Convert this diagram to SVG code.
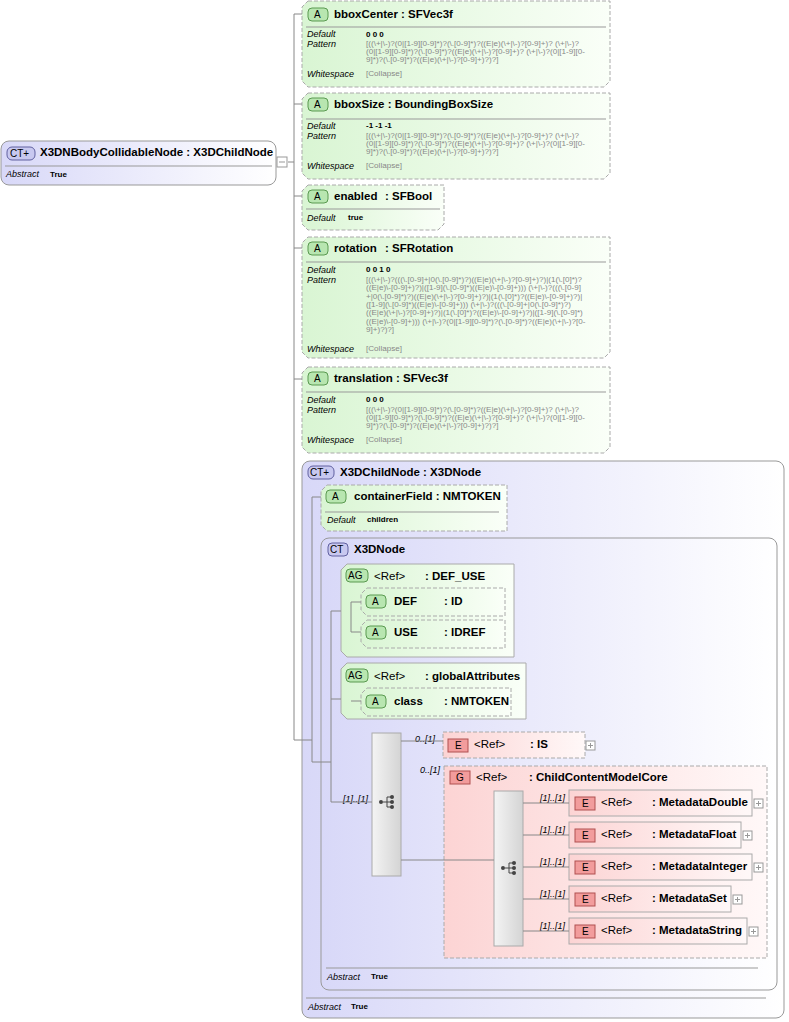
<svg xmlns="http://www.w3.org/2000/svg" width="789" height="1022" viewBox="0 0 789 1022">
<defs>
<linearGradient id="gG" x1="0" y1="0" x2="1" y2="0"><stop offset="0" stop-color="#d9f5d3"/><stop offset="1" stop-color="#fafff8"/></linearGradient>
<linearGradient id="gP" x1="0" y1="0" x2="1" y2="0"><stop offset="0" stop-color="#d8d8f8"/><stop offset="1" stop-color="#ffffff"/></linearGradient>
<linearGradient id="gR" x1="0" y1="0" x2="1" y2="0"><stop offset="0" stop-color="#fcd4d4"/><stop offset="1" stop-color="#fff8f8"/></linearGradient>
<linearGradient id="gS" x1="0" y1="0" x2="1" y2="0"><stop offset="0" stop-color="#f4f4f4"/><stop offset="1" stop-color="#d4d4d4"/></linearGradient>
<g id="seq"><circle cx="-7" cy="0" r="2" fill="#444"/><path d="M-5 0H-1M-1 -5V5M-1 -5H3M-1 0H3M-1 5H3" stroke="#444" fill="none"/><circle cx="4" cy="-5" r="2" fill="#444"/><circle cx="4" cy="0" r="2" fill="#444"/><circle cx="4" cy="5" r="2" fill="#444"/></g>
</defs>
<style>
text{font-family:"Liberation Sans",Arial,sans-serif;fill:#000}
.t{font-size:11.5px;font-weight:bold}
.n{font-size:11.5px}
.b{font-size:10px}
.k{font-size:9px;font-style:italic}
.v{font-size:8px;font-weight:bold}
.p{font-size:8.1px;fill:#888}
.m{font-size:9px;font-style:italic}
.att{fill:url(#gG);stroke:#aaa;stroke-dasharray:4,2}
.attS{fill:url(#gG);stroke:#aaa}
.ct{fill:url(#gP);stroke:#999}
.el{fill:url(#gR);stroke:#aaa}
.eld{fill:url(#gR);stroke:#aaa;stroke-dasharray:4,2}
.bA{fill:#b8e6b0;stroke:#5a9a50}
.bE{fill:#f29c9c;stroke:#b05050}
.bC{fill:#c8c8f0;stroke:#6060a0}
.ln{stroke:#888;fill:none}
.sep{stroke:#999}
.pl{fill:#fff;stroke:#999}
</style>

<g id="root">
<rect x="1" y="141" width="275" height="44" rx="8" class="ct"/>
<rect x="7" y="147" width="28" height="13" rx="5" class="bC"/><text x="10" y="157" class="b">CT+</text>
<text x="40" y="156" class="t">X3DNBodyCollidableNode : X3DChildNode</text>
<line x1="5" y1="166" x2="272" y2="166" class="sep"/>
<text x="6" y="177" class="k">Abstract</text><text x="50" y="177" class="v">True</text>
<rect x="277" y="157" width="10" height="10" class="pl"/><path d="M279 162H285" stroke="#999"/>
</g>

<g id="bboxCenter">
<path d="M308 1H610V81L604 87H308L302 81V7Z" class="att"/>
<rect x="308" y="8" width="20" height="13" rx="4" class="bA"/><text x="314" y="18" class="b">A</text>
<text x="334" y="18" class="t">bboxCenter : SFVec3f</text>
<line x1="306" y1="27" x2="606" y2="27" class="sep"/>
<text x="307" y="37" class="k">Default</text><text x="366" y="37" class="v">0 0 0</text>
<text x="307" y="47" class="k">Pattern</text>
<text x="366" y="46" class="p">[((\+|\-)?(0|[1-9][0-9]*)?(\.[0-9]*)?((E|e)(\+|\-)?[0-9]+)? (\+|\-)?</text>
<text x="366" y="54" class="p">(0|[1-9][0-9]*)?(\.[0-9]*)?((E|e)(\+|\-)?[0-9]+)? (\+|\-)?(0|[1-9][0-</text>
<text x="366" y="62" class="p">9]*)?(\.[0-9]*)?((E|e)(\+|\-)?[0-9]+)?)?]</text>
<text x="307" y="77" class="k">Whitespace</text><text x="366" y="76" class="p">[Collapse]</text>
</g>

<g id="bboxSize">
<path d="M308 93H610V173L604 179H308L302 173V99Z" class="att"/>
<rect x="308" y="98" width="20" height="13" rx="4" class="bA"/><text x="314" y="108" class="b">A</text>
<text x="334" y="108" class="t">bboxSize : BoundingBoxSize</text>
<line x1="306" y1="119" x2="606" y2="119" class="sep"/>
<text x="307" y="129" class="k">Default</text><text x="366" y="128" class="v">-1 -1 -1</text>
<text x="307" y="139" class="k">Pattern</text>
<text x="366" y="138" class="p">[((\+|\-)?(0|[1-9][0-9]*)?(\.[0-9]*)?((E|e)(\+|\-)?[0-9]+)? (\+|\-)?</text>
<text x="366" y="146" class="p">(0|[1-9][0-9]*)?(\.[0-9]*)?((E|e)(\+|\-)?[0-9]+)? (\+|\-)?(0|[1-9][0-</text>
<text x="366" y="154" class="p">9]*)?(\.[0-9]*)?((E|e)(\+|\-)?[0-9]+)?)?]</text>
<text x="307" y="169" class="k">Whitespace</text><text x="366" y="168" class="p">[Collapse]</text>
</g>

<g id="enabled">
<path d="M308 185H444V224L438 230H308L302 224V191Z" class="att"/>
<rect x="308" y="190" width="20" height="13" rx="4" class="bA"/><text x="314" y="200" class="b">A</text>
<text x="334" y="200" class="t">enabled</text><text x="385" y="200" class="t">: SFBool</text>
<line x1="306" y1="209" x2="440" y2="209" class="sep"/>
<text x="307" y="221" class="k">Default</text><text x="348" y="220" class="v">true</text>
</g>

<g id="rotation">
<path d="M308 237H610V352L604 358H308L302 352V243Z" class="att"/>
<rect x="308" y="242" width="20" height="13" rx="4" class="bA"/><text x="314" y="252" class="b">A</text>
<text x="334" y="252" class="t">rotation</text><text x="385" y="252" class="t">: SFRotation</text>
<line x1="306" y1="262" x2="606" y2="262" class="sep"/>
<text x="307" y="273" class="k">Default</text><text x="366" y="272" class="v">0 0 1 0</text>
<text x="307" y="283" class="k">Pattern</text>
<text x="366" y="282" class="p">[((\+|\-)?(((\.[0-9]+|0(\.[0-9]*)?)((E|e)(\+|\-)?[0-9]+)?)|(1(\.[0]*)?</text>
<text x="366" y="290" class="p">((E|e)\-[0-9]+)?)|([1-9](\.[0-9]*)((E|e)\-[0-9]+))) (\+|\-)?(((\.[0-9]</text>
<text x="366" y="299" class="p">+|0(\.[0-9]*)?)((E|e)(\+|\-)?[0-9]+)?)|(1(\.[0]*)?((E|e)\-[0-9]+)?)|</text>
<text x="366" y="307" class="p">([1-9](\.[0-9]*)((E|e)\-[0-9]+))) (\+|\-)?(((\.[0-9]+|0(\.[0-9]*)?)</text>
<text x="366" y="315" class="p">((E|e)(\+|\-)?[0-9]+)?)|(1(\.[0]*)?((E|e)\-[0-9]+)?)|([1-9](\.[0-9]*)</text>
<text x="366" y="324" class="p">((E|e)\-[0-9]+))) (\+|\-)?(0|[1-9][0-9]*)?(\.[0-9]*)?((E|e)(\+|\-)?[0-</text>
<text x="366" y="332" class="p">9]+)?)?]</text>
<text x="307" y="352" class="k">Whitespace</text><text x="366" y="351" class="p">[Collapse]</text>
</g>

<g id="translation">
<path d="M308 367H610V447L604 453H308L302 447V373Z" class="att"/>
<rect x="308" y="372" width="20" height="13" rx="4" class="bA"/><text x="314" y="382" class="b">A</text>
<text x="334" y="382" class="t">translation : SFVec3f</text>
<line x1="306" y1="392" x2="606" y2="392" class="sep"/>
<text x="307" y="403" class="k">Default</text><text x="366" y="402" class="v">0 0 0</text>
<text x="307" y="413" class="k">Pattern</text>
<text x="366" y="412" class="p">[((\+|\-)?(0|[1-9][0-9]*)?(\.[0-9]*)?((E|e)(\+|\-)?[0-9]+)? (\+|\-)?</text>
<text x="366" y="420" class="p">(0|[1-9][0-9]*)?(\.[0-9]*)?((E|e)(\+|\-)?[0-9]+)? (\+|\-)?(0|[1-9][0-</text>
<text x="366" y="428" class="p">9]*)?(\.[0-9]*)?((E|e)(\+|\-)?[0-9]+)?)?]</text>
<text x="307" y="443" class="k">Whitespace</text><text x="366" y="442" class="p">[Collapse]</text>
</g>

<g id="X3DChildNode">
<rect x="302" y="461" width="482" height="557" rx="8" class="ct"/>
<rect x="308" y="466" width="26" height="13" rx="5" class="bC"/><text x="310" y="476" class="b">CT+</text>
<text x="340" y="476" class="t">X3DChildNode : X3DNode</text>
<line x1="306" y1="998" x2="766" y2="998" class="sep"/>
<text x="308" y="1010" class="k">Abstract</text><text x="351" y="1009" class="v">True</text>
</g>

<g id="containerField">
<path d="M327 485H507V531H327L321 525V491Z" class="att"/>
<rect x="326" y="490" width="20" height="13" rx="4" class="bA"/><text x="332" y="500" class="b">A</text>
<text x="354" y="500" class="t">containerField : NMTOKEN</text>
<line x1="325" y1="512" x2="499" y2="512" class="sep"/>
<text x="327" y="523" class="k">Default</text><text x="367" y="522" class="v">children</text>
</g>

<g id="X3DNode">
<rect x="321" y="538" width="456" height="452" rx="8" class="ct"/>
<rect x="328" y="543" width="20" height="13" rx="4" class="bC"/><text x="330" y="553" class="b">CT</text>
<text x="354" y="553" class="t">X3DNode</text>
<line x1="326" y1="968" x2="758" y2="968" class="sep"/>
<text x="327" y="980" class="k">Abstract</text><text x="371" y="979" class="v">True</text>
</g>

<g id="DEF_USE">
<path d="M347 564H514V657H347L341 651V570Z" class="attS"/>
<rect x="346" y="569" width="22" height="13" rx="4" class="bA"/><text x="348" y="579" class="b">AG</text>
<text x="374" y="580" class="n">&lt;Ref&gt;</text><text x="425" y="580" class="t">: DEF_USE</text>
<path d="M367 588H505V616H367L361 610V594Z" class="att"/>
<rect x="366" y="595" width="20" height="13" rx="4" class="bA"/><text x="372" y="605" class="b">A</text>
<text x="394" y="605" class="t">DEF</text><text x="444" y="605" class="t">: ID</text>
<path d="M367 620H505V648H367L361 642V626Z" class="att"/>
<rect x="366" y="626" width="20" height="13" rx="4" class="bA"/><text x="372" y="636" class="b">A</text>
<text x="394" y="636" class="t">USE</text><text x="444" y="636" class="t">: IDREF</text>
</g>

<g id="globalAttributes">
<path d="M347 663H526V719H347L341 713V669Z" class="attS"/>
<rect x="346" y="669" width="22" height="13" rx="4" class="bA"/><text x="348" y="679" class="b">AG</text>
<text x="374" y="680" class="n">&lt;Ref&gt;</text><text x="425" y="680" class="t">: globalAttributes</text>
<path d="M367 688H511V716H367L361 710V694Z" class="att"/>
<rect x="366" y="695" width="20" height="13" rx="4" class="bA"/><text x="372" y="705" class="b">A</text>
<text x="394" y="705" class="t">class</text><text x="444" y="705" class="t">: NMTOKEN</text>
</g>

<g id="sequence1">
<rect x="372" y="733" width="29" height="143" fill="url(#gS)" stroke="#aaa"/>
<use href="#seq" x="388" y="802"/>
<text x="343" y="802" class="m">[1]..[1]</text>
<text x="415" y="742" class="m">0..[1]</text>
<text x="465" y="865" class="m">[1]..[1]</text>
</g>

<g id="IS">
<rect x="443" y="732" width="142" height="26" class="eld"/>
<rect x="448" y="739" width="20" height="13" class="bE"/><text x="455" y="749" class="b">E</text>
<text x="474" y="748" class="n">&lt;Ref&gt;</text><text x="530" y="748" class="t">: IS</text>
<rect x="586" y="741" width="9" height="9" class="pl"/><path d="M588 745.5H593M590.5 743V748" stroke="#999"/>
</g>

<g id="ChildContentModelCore">
<rect x="444" y="766" width="323" height="192" class="eld"/>
<text x="420" y="773" class="m">0..[1]</text>
<rect x="450" y="771" width="20" height="13" class="bE"/><text x="456" y="781" class="b">G</text>
<text x="476" y="781" class="n">&lt;Ref&gt;</text><text x="529" y="781" class="t">: ChildContentModelCore</text>
<rect x="494" y="791" width="29" height="155" fill="url(#gS)" stroke="#aaa"/>
<use href="#seq" x="510" y="868"/>
</g>

<g id="MetadataDouble">
<text x="540" y="801" class="m">[1]..[1]</text>
<rect x="569" y="790" width="183" height="26" class="el"/>
<rect x="575" y="797" width="20" height="13" class="bE"/><text x="582" y="807" class="b">E</text>
<text x="601" y="806" class="n">&lt;Ref&gt;</text><text x="652" y="806" class="t">: MetadataDouble</text>
<rect x="754" y="799" width="9" height="9" class="pl"/><path d="M756 803.5H761M758.5 801V806" stroke="#999"/>
</g>
<g id="MetadataFloat">
<text x="540" y="833" class="m">[1]..[1]</text>
<rect x="569" y="822" width="172" height="26" class="el"/>
<rect x="575" y="829" width="20" height="13" class="bE"/><text x="582" y="839" class="b">E</text>
<text x="601" y="838" class="n">&lt;Ref&gt;</text><text x="652" y="838" class="t">: MetadataFloat</text>
<rect x="743" y="831" width="9" height="9" class="pl"/><path d="M745 835.5H750M747.5 833V838" stroke="#999"/>
</g>
<g id="MetadataInteger">
<text x="540" y="865" class="m">[1]..[1]</text>
<rect x="569" y="854" width="183" height="26" class="el"/>
<rect x="575" y="861" width="20" height="13" class="bE"/><text x="582" y="871" class="b">E</text>
<text x="601" y="870" class="n">&lt;Ref&gt;</text><text x="652" y="870" class="t">: MetadataInteger</text>
<rect x="754" y="863" width="9" height="9" class="pl"/><path d="M756 867.5H761M758.5 865V870" stroke="#999"/>
</g>
<g id="MetadataSet">
<text x="540" y="897" class="m">[1]..[1]</text>
<rect x="569" y="886" width="162" height="26" class="el"/>
<rect x="575" y="893" width="20" height="13" class="bE"/><text x="582" y="903" class="b">E</text>
<text x="601" y="902" class="n">&lt;Ref&gt;</text><text x="652" y="902" class="t">: MetadataSet</text>
<rect x="733" y="895" width="9" height="9" class="pl"/><path d="M735 899.5H740M737.5 897V902" stroke="#999"/>
</g>
<g id="MetadataString">
<text x="540" y="929" class="m">[1]..[1]</text>
<rect x="569" y="918" width="178" height="26" class="el"/>
<rect x="575" y="925" width="20" height="13" class="bE"/><text x="582" y="935" class="b">E</text>
<text x="601" y="934" class="n">&lt;Ref&gt;</text><text x="652" y="934" class="t">: MetadataString</text>
<rect x="749" y="927" width="9" height="9" class="pl"/><path d="M751 931.5H756M753.5 929V934" stroke="#999"/>
</g>

<g id="connectors" class="ln">
<path d="M288 162H294M294 14V740H312M294 14H302M294 104H302M294 196H302M294 248H302M294 379H302"/>
<path d="M312 497V762H331M312 497H321"/>
<path d="M331 611V802H372M331 611H341M331 699H341"/>
<path d="M351 602V632H361M351 602H361M351 701H361"/>
<path d="M401 741H443M401 860H494"/>
<path d="M523 803H569M523 835H569M523 867H569M523 899H569M523 931H569"/>
</g>
</svg>
